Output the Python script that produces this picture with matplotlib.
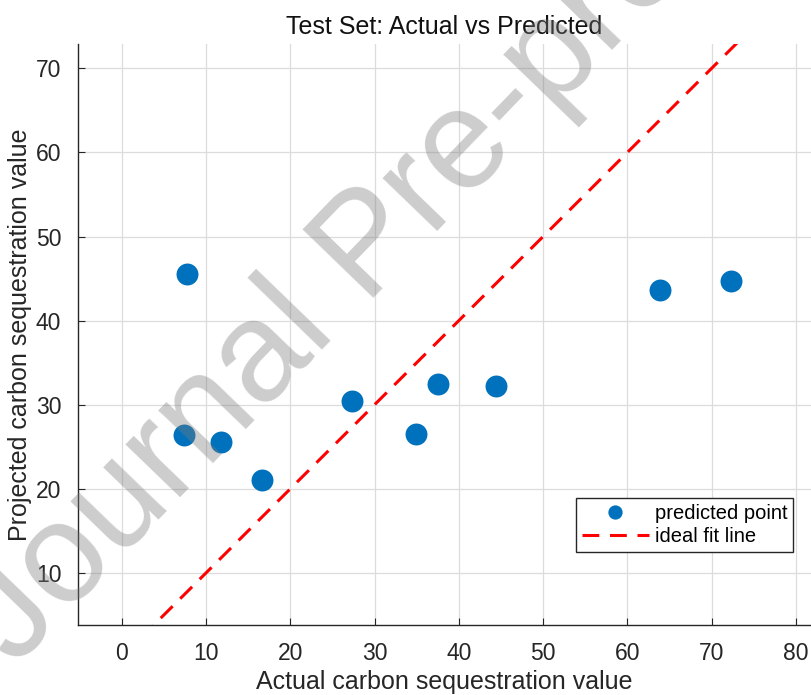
import matplotlib
matplotlib.use('Agg')
import matplotlib.pyplot as plt

plt.rcParams['font.family'] = ['Liberation Sans', 'DejaVu Sans']

# test set values
actual = [7.7, 7.4, 11.75, 16.6, 27.3, 34.9, 37.5, 44.4, 63.9, 72.3]
predicted = [45.6, 26.4, 25.6, 21.1, 30.5, 26.5, 32.5, 32.2, 43.6, 44.7]
fit_line = [0, 80]

xticks = [0, 10, 20, 30, 40, 50, 60, 70, 80]
yticks = [10, 20, 30, 40, 50, 60, 70]

dark = '#262626'

fig = plt.figure(figsize=(8.11, 6.95), dpi=100)
ax = fig.add_axes([78/811, 70/695, 1 - 78/811, 1 - 44/695 - 70/695])

ax.plot(actual, predicted, 'o', color='#0072BD', markersize=15.8,
        markeredgewidth=0, label='predicted point', zorder=3)
ax.plot(fit_line, fit_line, '--', color='#FF0000', linewidth=2.2,
        dashes=(5.5, 3.5), label='ideal fit line', zorder=2)

ax.set_xlim(-5.2, 81.8)
ax.set_ylim(3.8, 72.9)
ax.set_xticks(xticks)
ax.set_yticks(yticks)
ax.grid(True, color='#dcdcdc', linewidth=0.9)
ax.set_axisbelow(True)

for s in ['top', 'right']:
    ax.spines[s].set_visible(False)
for s in ['left', 'bottom']:
    ax.spines[s].set_color(dark)
    ax.spines[s].set_linewidth(1.0)
ax.tick_params(direction='in', length=5, width=0.8, colors=dark,
               labelsize=16.5, pad=12)

ax.set_title('Test Set: Actual vs Predicted', fontsize=18, color='#111111', pad=7)
ax.set_xlabel('Actual carbon sequestration value', fontsize=18, color=dark, labelpad=4)
ax.set_ylabel('Projected carbon sequestration value', fontsize=18, color=dark, labelpad=3)

leg = ax.legend(loc='upper left', bbox_to_anchor=(576/811, 1 - 498/695),
                bbox_transform=fig.transFigure, borderaxespad=0,
                fontsize=14.5, handlelength=3.3, markerscale=0.65,
                fancybox=False, framealpha=1, edgecolor=dark,
                borderpad=0.3, labelspacing=0.2, handletextpad=0.3)
leg.get_frame().set_linewidth(1.0)

# watermark
fig.text(15/811, 1 - 668/695, 'Journal Pre-proof', fontsize=102, rotation=46,
         color='#7a7a7a', alpha=0.38, ha='left', va='baseline',
         rotation_mode='anchor', zorder=10)

fig.savefig('out.png', dpi=100)
